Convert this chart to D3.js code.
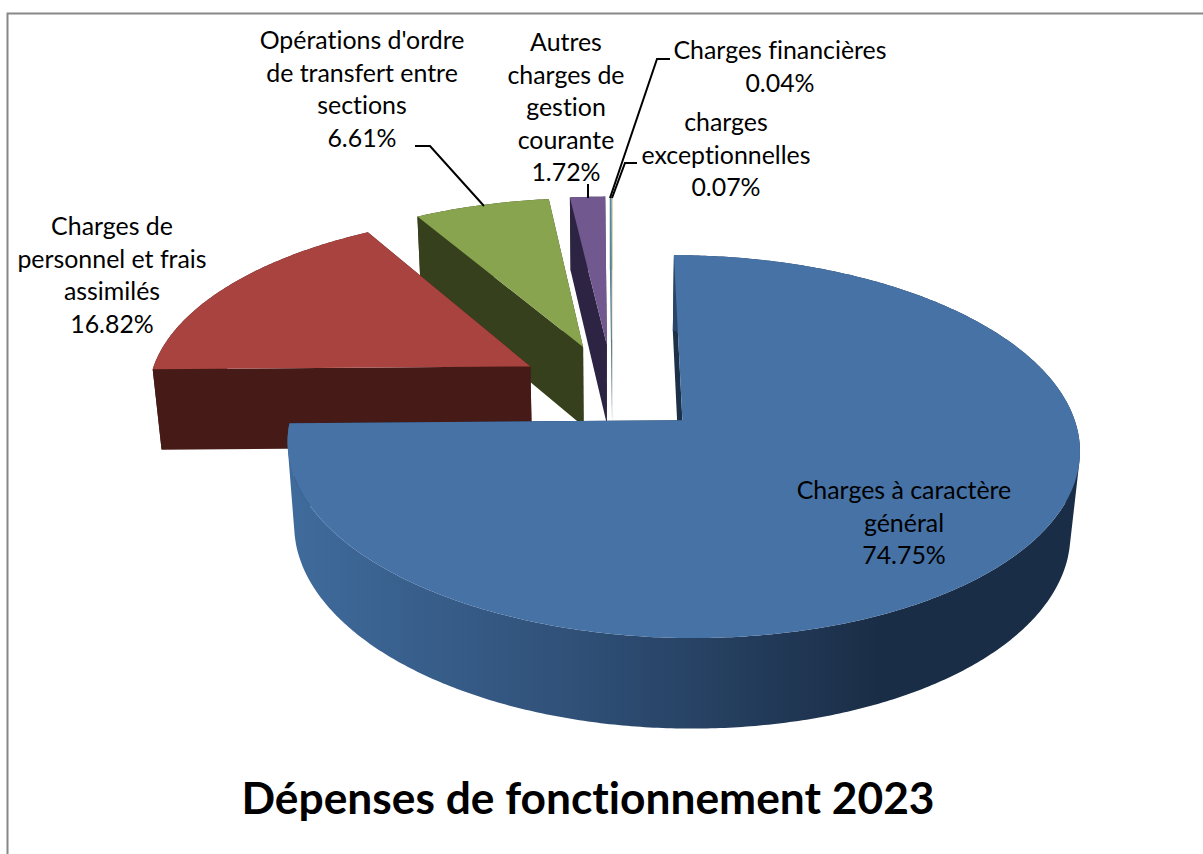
<!DOCTYPE html>
<html><head><meta charset="utf-8">
<style>html,body{margin:0;padding:0;background:#fff}svg{display:block}text{font-family:Lato,"Open Sans",sans-serif;fill:#000;font-variant-ligatures:none}</style>
<script src="https://cdnjs.cloudflare.com/ajax/libs/d3/7.8.5/d3.min.js"></script>
</head><body><svg id="c" width="1203" height="854"></svg>
<script>
const categories=["Charges à caractère général","Charges de personnel et frais assimilés","Opérations d'ordre de transfert entre sections","Autres charges de gestion courante","charges exceptionnelles","Charges financières"];
const shares=[74.75,16.82,6.61,1.72,0.07,0.04];
const titleText="Dépenses de fonctionnement 2023";
const topColors=["#4672a6","#a8433f","#88a44e","#71588f","#4a8f9f","#f0a878"];
const wallColors=["#1c3048","#451a17","#36401c","#2d2342","#5d7f88","#b9c4c6"];
const labelLines=[["Charges à caractère","général","74.75%"],["Charges de","personnel et frais","assimilés","16.82%"],["Opérations d'ordre","de transfert entre","sections","6.61%"],["Autres","charges de","gestion","courante","1.72%"],["charges","exceptionnelles","0.07%"],["Charges financières","0.04%"]];

const W={cx:612.5,cy:388,rx:383,a:179,b:83,p:0.135,q:0.02,explode:0.25};
const labelAt=[[904,491],[112,227],[362,41],[566,43],[726,123],[780,51]];
const leaders=[null,null,[[415,146],[430,146],[484,206]],[[588,184],[588,198]],[[637,163],[625,163],[612,198]],[[670,59],[657,59],[610,198]]];

const svg=d3.select("#c");
const defs=svg.append("defs");
const g=defs.append("linearGradient").attr("id","bw").attr("gradientUnits","userSpaceOnUse").attr("x1",290).attr("x2",880).attr("y1",0).attr("y2",0);
g.append("stop").attr("offset",0).attr("stop-color","#3f6b9c");
g.append("stop").attr("offset",0.5).attr("stop-color","#2f4f76");
g.append("stop").attr("offset",1).attr("stop-color","#1a2d46");

svg.append("path").attr("d",d3.line()([[7.5,854],[7.5,13.5],[1203,13.5]])).attr("fill","none").attr("stroke","#888").attr("stroke-width",2);

function project(X,Y,Z){const w=1+W.p*Y+W.q*Z;return [W.cx+W.rx*X/w,W.cy+(-W.a*Y+W.b*Z)/w];}
const arcs=d3.pie().sort(null).value(d=>d)(shares);
const line=d3.line();
function sliceParts(d){
  const a0=d.startAngle,a1=d.endAngle,m=(a0+a1)/2;
  const ox=W.explode*Math.sin(m),oy=W.explode*Math.cos(m);
  const P=(a,r,z)=>project(ox+r*Math.sin(a),oy+r*Math.cos(a),z);
  const n=Math.max(2,Math.ceil((a1-a0)/0.01));
  const as=d3.range(n+1).map(i=>a0+(a1-a0)*i/n);
  const top=[P(a0,0,0),...as.map(a=>P(a,1,0))];
  const rim=d3.pairs(as).map(([u,v])=>{
    const quad=[P(u,1,0),P(v,1,0),P(v,1,1),P(u,1,1)];
    if(d3.polygonArea(quad)<0)quad.reverse();
    return line(quad)+"Z";
  }).join("");
  const cut=a=>[P(a,0,0),P(a,1,0),P(a,1,1),P(a,0,1)];
  return {top,rim,cut0:cut(a0),cut1:cut(a1)};
}
const order=[5,4,3,2,1,0];
const gp=svg.append("g");
order.forEach(i=>{
  const s=sliceParts(arcs[i]);
  const wall=i===0?"url(#bw)":wallColors[i];
  gp.append("path").attr("d",line(s.cut1)+"Z").attr("fill",wallColors[i]);
  gp.append("path").attr("d",line(s.cut0)+"Z").attr("fill",wallColors[i]);
  gp.append("path").attr("d",s.rim).attr("fill",wall);
  gp.append("path").attr("d",line(s.top)+"Z").attr("fill",topColors[i]);
});
leaders.forEach(l=>{if(l)svg.append("path").attr("d",line(l)).attr("fill","none").attr("stroke","#000").attr("stroke-width",2);});
labelLines.forEach((ls,i)=>{
  const t=svg.append("text").attr("text-anchor","middle").attr("font-size",24.9);
  ls.forEach((s,j)=>t.append("tspan").attr("x",labelAt[i][0]).attr("y",labelAt[i][1]+8+j*32.5).text(s));
});
svg.append("text").attr("x",588).attr("y",814).attr("text-anchor","middle").attr("font-size",44.3).attr("font-weight",700).text(titleText);
</script></body></html>
